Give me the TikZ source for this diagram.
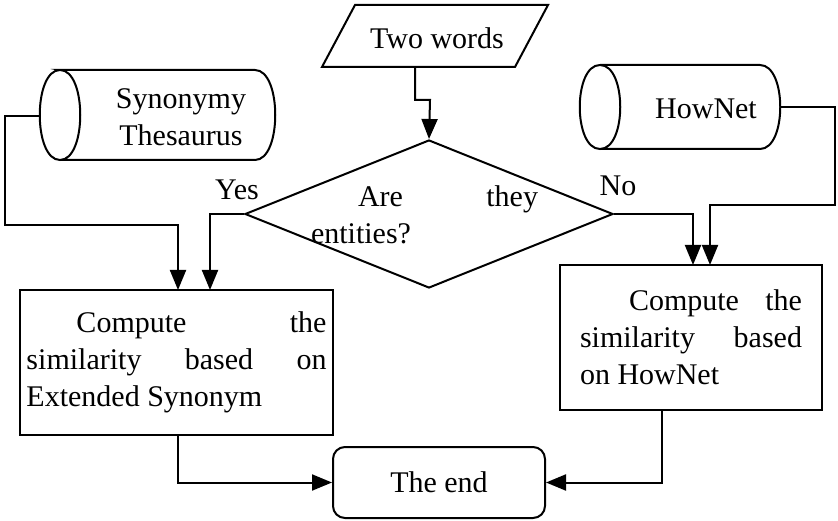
\documentclass[tikz,border=0pt]{standalone}
\usepackage{fontspec}
\setmainfont{Liberation Serif}
\usetikzlibrary{arrows.meta,shapes.geometric}
\begin{document}
\begin{tikzpicture}[x=1pt,y=-1pt,line width=2pt,
  every node/.style={font=\fontsize{30}{37}\selectfont,inner sep=0pt},
  arr/.style={-{Triangle[length=20pt,width=16pt]}},
  ]
\useasboundingbox (0,0) rectangle (838,521);
% input
\draw (355,5) -- (548,5) -- (515,67) -- (322,67) -- cycle;
\node (in) at (437,38) {Two words};
\coordinate (ins) at (415,67);
% diamond
\node[draw,diamond,minimum width=368,minimum height=148,aspect=2.5] (dec) at (429,214) {};
\node[anchor=west,align=left] (dtext) at (310,215) {\hspace*{47pt}\makebox[180pt][s]{Are\hfill they}\\entities?};
% cylinders
\draw (60,70) .. controls (33,70) and (33,160) .. (60,160) .. controls (87,160) and (87,70) .. (60,70) -- (255,70) .. controls (282,70) and (282,160) .. (255,160) -- (60,160);
\node[align=center] (syn) at (181,117) {Synonymy\\Thesaurus};
\coordinate (synl) at (40,116);
\draw (600,65) .. controls (573,65) and (573,149) .. (600,149) .. controls (627,149) and (627,65) .. (600,65) -- (760,65) .. controls (787,65) and (787,149) .. (760,149) -- (600,149);
\node (hn) at (706,109) {HowNet};
\coordinate (hnr) at (780,107);
% boxes
\node[draw,minimum width=313,minimum height=145,align=left] (lb) at (176.5,362.5)
 {\hspace*{50pt}\makebox[250pt][s]{Compute\hfill the}\\\makebox[300pt][s]{similarity\hfill based\hfill on}\\Extended Synonym};
\node[draw,minimum width=262,minimum height=145,align=left] (rb) at (691,337.5)
 {\hspace*{49pt}\makebox[173pt][s]{Compute\hfill the}\\\makebox[222pt][s]{similarity\hfill based}\\on HowNet};
\node[draw,rounded corners=12pt,minimum width=212,minimum height=71] (end) at (439,482.5) {The end};
% connectors
\draw[arr] (ins) |- (430,100) -- (dec.north);
\draw[arr] (synl) -- (5,116) |- (178,225) -- (178,290);
\draw[arr] (dec.west) -| (210,290);
\node (yes) at (237,190) {Yes};
\draw[arr] (dec.east) -| (693,265);
\node (no) at (618,186) {No};
\draw[arr] (hnr) -- (835,107) |- (710,205) -- (710,265);
\draw[arr] (lb.south -| 178,0) |- (end.west);
\draw[arr] (rb.south -| 662,0) |- (end.east);
\end{tikzpicture}
\end{document}
